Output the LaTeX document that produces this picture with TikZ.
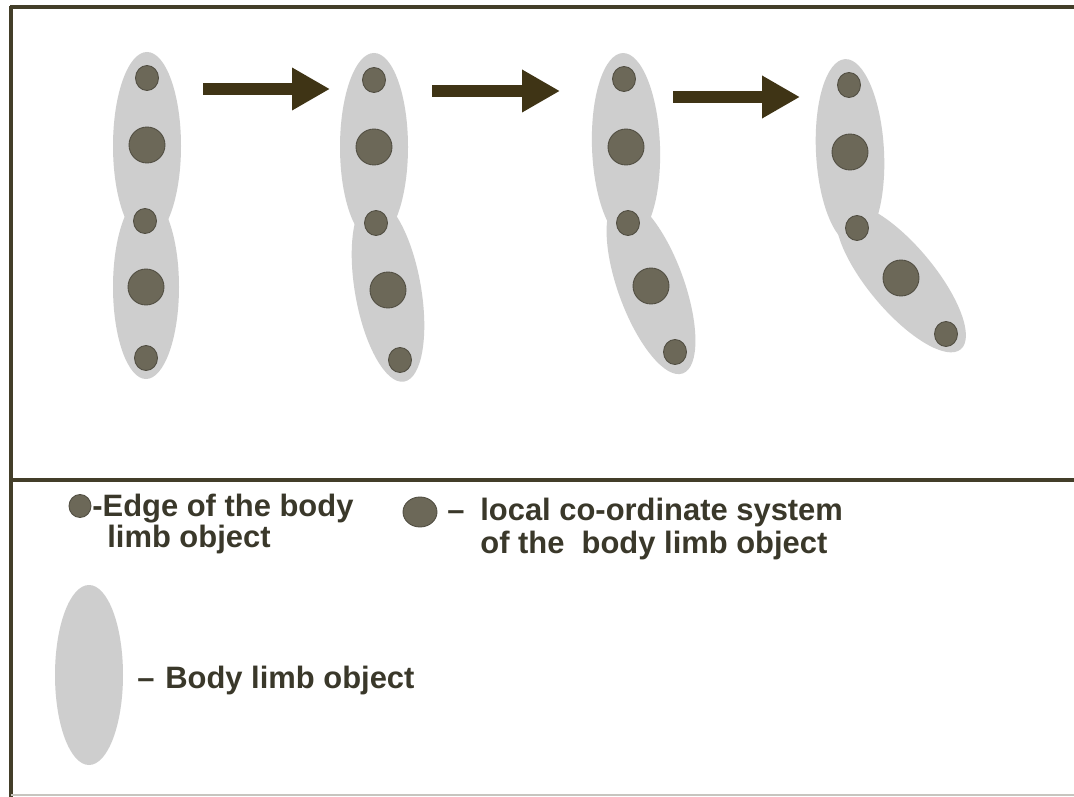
\documentclass[tikz,border=0pt]{standalone}
\usepackage{fontspec}
\setmainfont{Liberation Sans}
\usetikzlibrary{arrows.meta}
\definecolor{framecol}{HTML}{433E29}
\definecolor{limbcol}{HTML}{CECECE}
\definecolor{dotcol}{HTML}{6C6858}
\definecolor{arrowcol}{HTML}{3F3415}
\definecolor{textcol}{HTML}{3A382A}
\tikzset{
    x=0.02cm, y=-0.02cm,
    frame/.style={line width=2.1pt, framecol},
    limb/.style={fill=limbcol},
    edgedot/.style={fill=dotcol, draw=dotcol!75!black, line width=0.5pt},
    localdot/.style={fill=dotcol, draw=dotcol!75!black, line width=0.5pt},
    move/.style={-{Triangle[length=21.6pt,width=22.8pt]}, line width=6.8pt, arrowcol},
    legend/.style={anchor=base west, inner sep=0pt, text=textcol, font=\fontsize{17.6}{21}\selectfont\bfseries}
}

\begin{document}
\begin{tikzpicture}
\useasboundingbox (0,0) rectangle (1074,797);
\fill[white] (0,0) rectangle (1074,797);

\draw[frame] (10,7) -- (1074,7);
\draw[frame] (11,6) -- (11,797);
\draw[frame] (10,480) -- (1074,480);
\draw[line width=0.6pt, framecol!30] (11,795) -- (1074,795);

% first pose
\fill[limb] (147,146) ellipse [x radius=34, y radius=94];
\fill[limb] (146,287) ellipse [x radius=33, y radius=92];
% second pose
\fill[limb] (374,147) ellipse [x radius=34, y radius=94];
\fill[limb, rotate around={10:(388,290)}] (388,290) ellipse [x radius=33, y radius=93];
% third pose
\fill[limb, rotate around={2:(626,147)}] (626,147) ellipse [x radius=34, y radius=94];
\fill[limb, rotate around={20:(651,286)}] (651,286) ellipse [x radius=33, y radius=93];
% fourth pose
\fill[limb, rotate around={3:(850,152)}] (850,152) ellipse [x radius=34, y radius=93];
\fill[limb, rotate around={40:(901,278)}] (901,278) ellipse [x radius=33, y radius=93];

\fill[edgedot] (147,78) ellipse [x radius=11.5, y radius=12.5];
\fill[localdot] (147,145) circle [radius=18];
\fill[edgedot] (145,221) ellipse [x radius=11.5, y radius=12.5];
\fill[localdot] (146,287) circle [radius=18];
\fill[edgedot] (146,358) ellipse [x radius=11.5, y radius=12.5];

\fill[edgedot] (374,80) ellipse [x radius=11.5, y radius=12.5];
\fill[localdot] (374,147) circle [radius=18];
\fill[edgedot] (376,223) ellipse [x radius=11.5, y radius=12.5];
\fill[localdot] (388,290) circle [radius=18];
\fill[edgedot] (400,360) ellipse [x radius=11.5, y radius=12.5];

\fill[edgedot] (624,79) ellipse [x radius=11.5, y radius=12.5];
\fill[localdot] (626,147) circle [radius=18];
\fill[edgedot] (628,223) ellipse [x radius=11.5, y radius=12.5];
\fill[localdot] (651,286) circle [radius=18];
\fill[edgedot] (675,352) ellipse [x radius=11.5, y radius=12.5];

\fill[edgedot] (849,85) ellipse [x radius=11.5, y radius=12.5];
\fill[localdot] (850,152) circle [radius=18];
\fill[edgedot] (857,228) ellipse [x radius=11.5, y radius=12.5];
\fill[localdot] (901,278) circle [radius=18];
\fill[edgedot] (946,334) ellipse [x radius=11.5, y radius=12.5];

\coordinate (move1s) at (203,89);
\coordinate (move1e) at (330,89);
\coordinate (move2s) at (432,91);
\coordinate (move2e) at (560,91);
\coordinate (move3s) at (673,97);
\coordinate (move3e) at (800,97);
\draw[move] (move1s) -- (move1e);
\draw[move] (move2s) -- (move2e);
\draw[move] (move3s) -- (move3e);

% legend
\fill[edgedot] (80,506) ellipse [x radius=11, y radius=11.5];
\node[legend] (edgetxt) at (92,516) {-Edge of the body};
\node[legend] (edgetxt2) at (107,547) {limb object};

\fill[localdot] (420,512) ellipse [x radius=17, y radius=15];
\node[legend] (cosdash) at (447,520) {\textendash};
\node[legend] (costxt) at (480,520) {local co-ordinate system};
\node[legend] (costxt2) at (480,553) {of the~ body limb object};

\fill[limb] (89,675) ellipse [x radius=34, y radius=90];
\node[legend] (limbdash) at (137,688) {\textendash};
\node[legend] (limbtxt) at (165,688) {Body limb object};
\end{tikzpicture}
\end{document}
